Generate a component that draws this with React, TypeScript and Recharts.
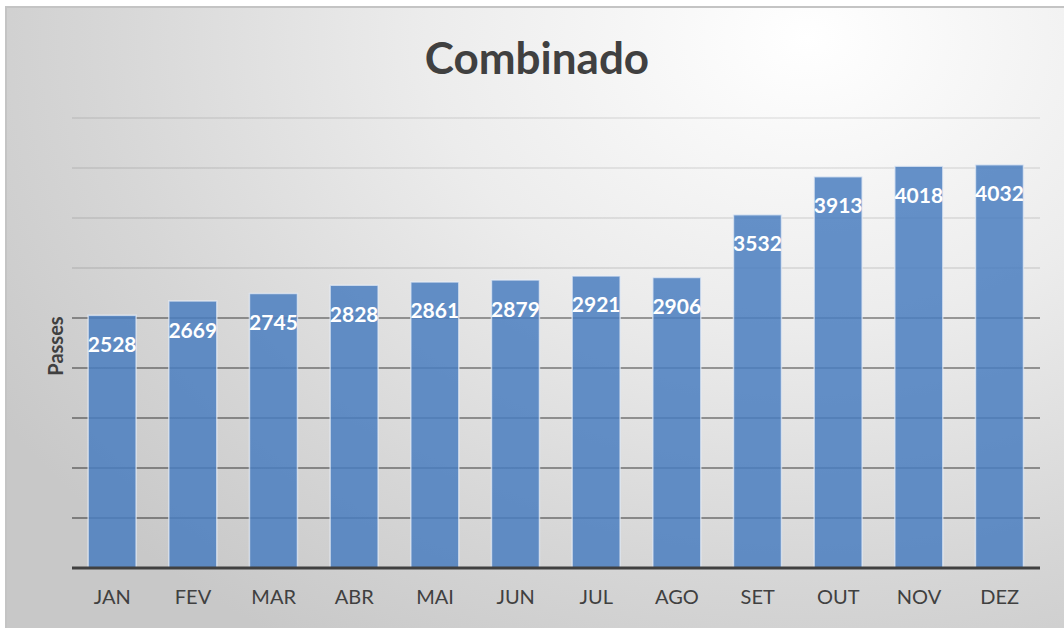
import React from 'react';
import { BarChart, Bar, XAxis, YAxis, CartesianGrid, LabelList } from 'recharts';

const months = ['JAN', 'FEV', 'MAR', 'ABR', 'MAI', 'JUN', 'JUL', 'AGO', 'SET', 'OUT', 'NOV', 'DEZ'];
const passes = [2528, 2669, 2745, 2828, 2861, 2879, 2921, 2906, 3532, 3913, 4018, 4032];
const yTicks = [0, 500, 1000, 1500, 2000, 2500, 3000, 3500, 4000, 4500];

const data = months.map((m, i) => ({ month: m, passes: passes[i] }));

const FONT = 'Lato, "Open Sans", sans-serif';

const renderValue = (props: any) => {
  const { x, y, width, value } = props;
  return (
    <text
      x={x + width / 2}
      y={y + 28}
      textAnchor="middle"
      dominantBaseline="central"
      fill="#ffffff"
      fontFamily={FONT}
      fontWeight={700}
      fontSize={21}
    >
      {value}
    </text>
  );
};

export default function App() {
  return (
    <div style={{ position: 'relative', width: 1064, height: 628, background: '#ffffff', overflow: 'hidden' }}>
      <style>{'body{margin:0}'}</style>
      <div
        style={{
          position: 'absolute',
          left: 5,
          top: 6,
          width: 1080,
          height: 640,
          borderTop: '2px solid #c4c4c4',
          borderLeft: '2px solid #c4c4c4',
          background:
            'radial-gradient(ellipse 950px 720px at 800px 30px, #ffffff 0%, #ececec 40%, #d6d6d6 75%, #c8c8c8 100%)',
        }}
      />
      <div
        style={{
          position: 'absolute',
          left: 0,
          width: 1074,
          top: 31,
          textAlign: 'center',
          fontFamily: FONT,
          fontWeight: 700,
          fontSize: 44,
          color: '#404040',
          lineHeight: '52px',
        }}
      >
        Combinado
      </div>
      <div
        style={{
          position: 'absolute',
          left: 55,
          top: 346,
          transform: 'translate(-50%, -50%) rotate(-90deg)',
          fontFamily: FONT,
          fontWeight: 700,
          fontSize: 20,
          color: '#404040',
          whiteSpace: 'nowrap',
        }}
      >
        Passes
      </div>
      <div style={{ position: 'absolute', left: 0, top: 0 }}>
        <BarChart
          width={1064}
          height={628}
          data={data}
          margin={{ top: 118, right: 24, bottom: 0, left: 72 }}
          barCategoryGap="20%"
        >
          <defs>
            <linearGradient id="gridGrad" gradientUnits="userSpaceOnUse" x1="0" y1="118" x2="0" y2="568">
              <stop offset="0" stopColor="#000000" stopOpacity={0.07} />
              <stop offset="0.37" stopColor="#000000" stopOpacity={0.09} />
              <stop offset="0.41" stopColor="#000000" stopOpacity={0.36} />
              <stop offset="1" stopColor="#000000" stopOpacity={0.38} />
            </linearGradient>
          </defs>
          <CartesianGrid vertical={false} stroke="url(#gridGrad)" strokeWidth={2} />
          <YAxis hide domain={[0, 4500]} ticks={yTicks} />
          <XAxis
            dataKey="month"
            axisLine={{ stroke: '#404040', strokeWidth: 3 }}
            tickLine={false}
            tick={{ fill: '#404040', fontFamily: FONT, fontSize: 20 }}
            dy={14}
            height={60}
          />
          <Bar
            dataKey="passes"
            fill="#4a7ebf"
            fillOpacity={0.85}
            stroke="#e8eef6"
            strokeOpacity={0.7}
            strokeWidth={1.5}
            isAnimationActive={false}
          >
            <LabelList dataKey="passes" content={renderValue} />
          </Bar>
        </BarChart>
      </div>
    </div>
  );
}
